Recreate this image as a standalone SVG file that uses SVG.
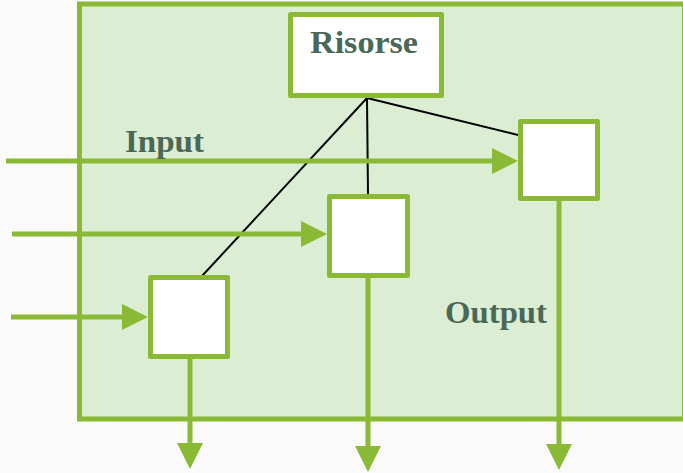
<svg xmlns="http://www.w3.org/2000/svg" width="683" height="473" viewBox="0 0 683 473">
<defs>
<style>
.frame{fill:#dbeed4;stroke:#8aba35;stroke-width:5}
.box{fill:#ffffff;stroke:#8aba35;stroke-width:5;stroke-linejoin:round}
.flow{stroke:#8aba35;stroke-width:5;fill:none;marker-end:url(#ah)}
.res{stroke:#000000;stroke-width:2;fill:none}
.lbl{font-family:"Liberation Serif",serif;font-weight:bold;font-size:32px;fill:#4b6756}
</style>
<marker id="ah" markerUnits="userSpaceOnUse" markerWidth="26" markerHeight="26" refX="6" refY="13" orient="auto" viewBox="0 0 26 26">
<path d="M0,0 L26,13 L0,26 Z" fill="#8aba35"/>
</marker>
</defs>
<rect width="683" height="473" fill="#fafafa"/>
<rect class="frame" x="79.5" y="4" width="605" height="415"/>
<g id="connectors">
<line class="res" x1="367" y1="98" x2="202" y2="276"/>
<line class="res" x1="367" y1="98" x2="368" y2="195"/>
<line class="res" x1="367" y1="98" x2="518" y2="135"/>
<line class="flow" x1="6" y1="161" x2="498" y2="161"/>
<line class="flow" x1="12" y1="234" x2="307" y2="234"/>
<line class="flow" x1="11" y1="317" x2="128" y2="317"/>
<line class="flow" x1="190" y1="359" x2="190" y2="449"/>
<line class="flow" x1="368" y1="278" x2="368" y2="452"/>
<line class="flow" x1="559" y1="201" x2="559" y2="450"/>
</g>
<g id="risorse">
<rect class="box" x="290.5" y="14.5" width="151" height="81"/>
<text class="lbl" x="310" y="53" textLength="108" lengthAdjust="spacingAndGlyphs">Risorse</text>
</g>
<g id="box1"><rect class="box" x="150.5" y="277.5" width="77" height="79"/></g>
<g id="box2"><rect class="box" x="329.5" y="196.5" width="78" height="79"/></g>
<g id="box3"><rect class="box" x="520.5" y="121.5" width="77" height="77"/></g>
<g id="labels">
<text class="lbl" x="125" y="152" textLength="79" lengthAdjust="spacingAndGlyphs">Input</text>
<text class="lbl" x="445" y="323" textLength="102" lengthAdjust="spacingAndGlyphs">Output</text>
</g>
</svg>
